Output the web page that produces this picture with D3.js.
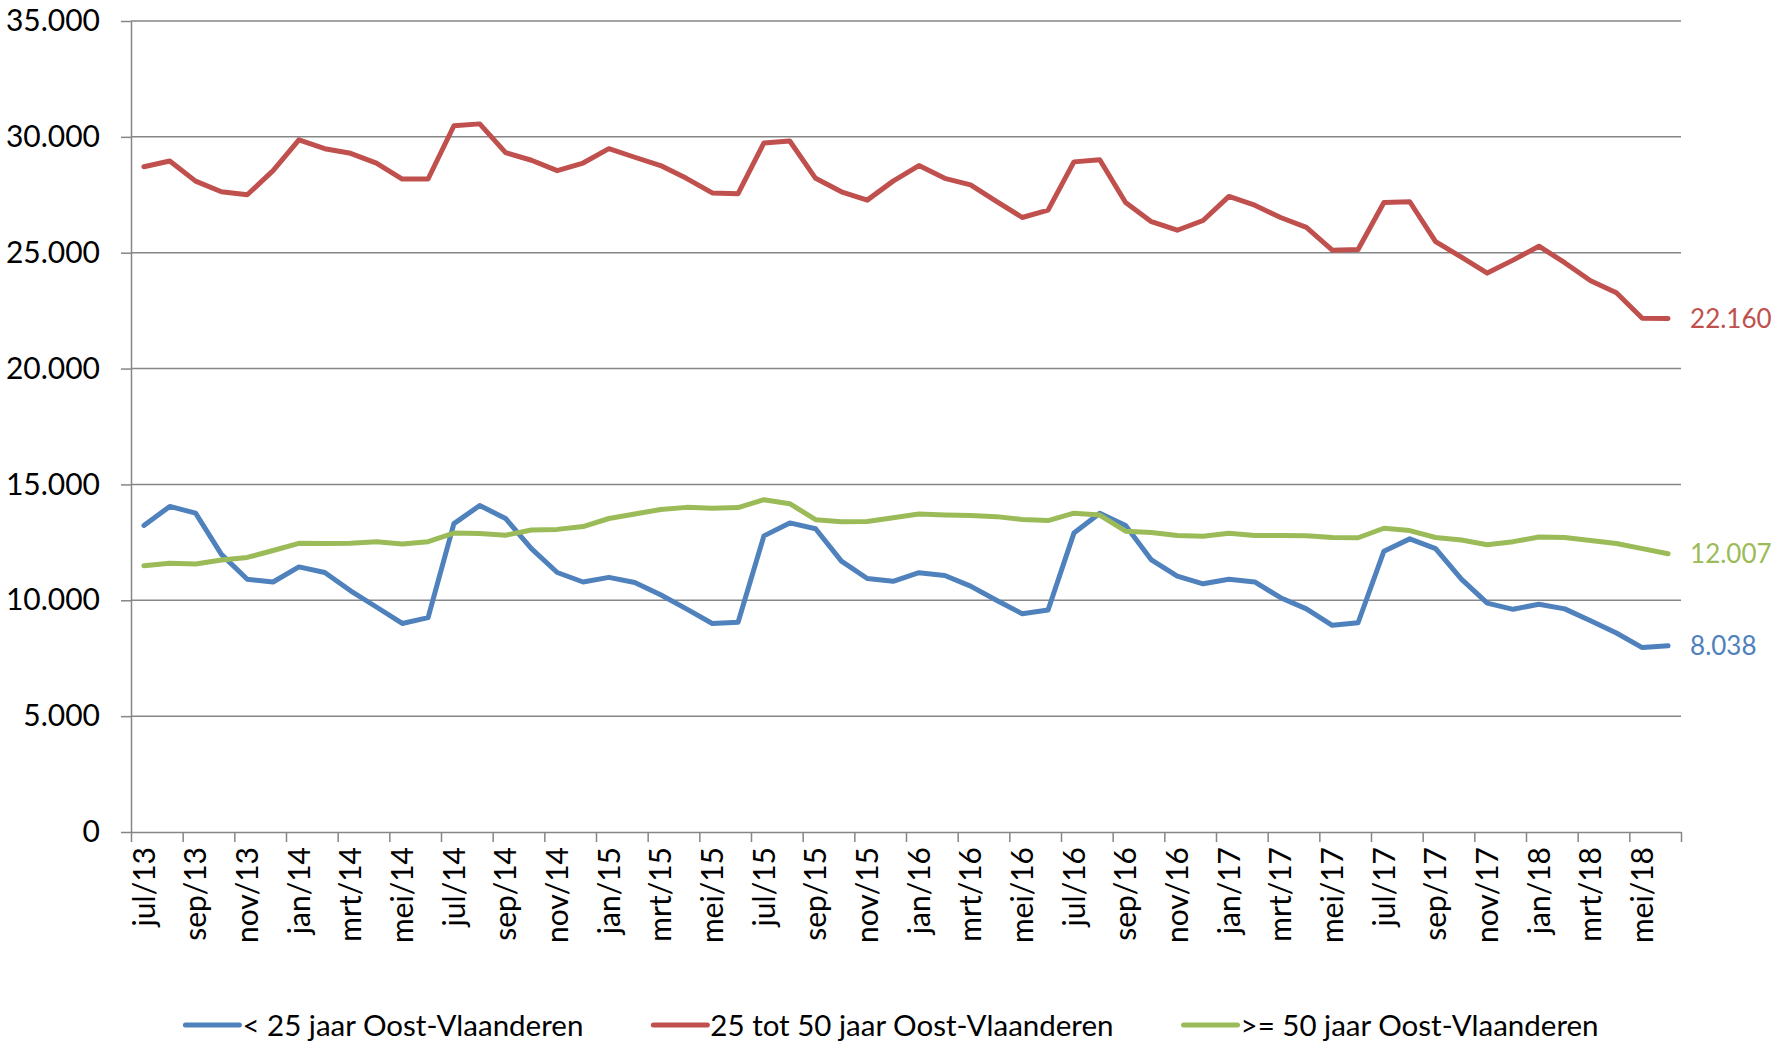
<!DOCTYPE html>
<html>
<head>
<meta charset="utf-8">
<script src="https://cdn.jsdelivr.net/npm/d3@7"></script>
<style>
  body { margin: 0; background: #fff; }
  text { font-family: Lato, "Open Sans", sans-serif; fill: #000; }
</style>
</head>
<body>
<script>
// months jul/13 .. jun/18
var months = [
  "jul/13","aug/13","sep/13","okt/13","nov/13","dec/13",
  "jan/14","feb/14","mrt/14","apr/14","mei/14","jun/14","jul/14","aug/14","sep/14","okt/14","nov/14","dec/14",
  "jan/15","feb/15","mrt/15","apr/15","mei/15","jun/15","jul/15","aug/15","sep/15","okt/15","nov/15","dec/15",
  "jan/16","feb/16","mrt/16","apr/16","mei/16","jun/16","jul/16","aug/16","sep/16","okt/16","nov/16","dec/16",
  "jan/17","feb/17","mrt/17","apr/17","mei/17","jun/17","jul/17","aug/17","sep/17","okt/17","nov/17","dec/17",
  "jan/18","feb/18","mrt/18","apr/18","mei/18","jun/18"
];

var under25 = [
  13230,14050,13760,11980,10910,10790,
  11440,11200,10410,9710,9000,9250,13310,14090,13530,12230,11200,10790,
  10990,10770,10240,9630,9000,9050,12780,13340,13090,11690,10940,10820,
  11190,11070,10610,10000,9420,9580,12900,13760,13230,11740,11040,10710,
  10910,10790,10110,9630,8920,9030,12120,12650,12230,10910,9880,9610,
  9830,9630,9120,8590,7960,8038
];

var from25to50 = [
  28710,28960,28090,27630,27500,28540,
  29870,29490,29290,28870,28180,28180,30480,30560,29320,28990,28540,28870,
  29490,29120,28760,28210,27580,27550,29740,29820,28210,27630,27270,28090,
  28760,28210,27930,27220,26520,26840,28920,29010,27170,26340,25970,26390,
  27430,27050,26520,26090,25110,25140,27170,27200,25480,24810,24120,24680,
  25280,24570,23790,23270,22170,22160
];

var over50 = [
  11490,11600,11570,11740,11850,12150,
  12460,12450,12460,12530,12430,12530,12900,12880,12810,13030,13060,13180,
  13530,13720,13920,14010,13970,14000,14340,14170,13480,13390,13400,13560,
  13720,13680,13660,13610,13490,13440,13760,13680,12980,12930,12800,12760,
  12890,12800,12800,12790,12710,12700,13110,13010,12710,12600,12400,12530,
  12730,12710,12580,12450,12230,12007
];

var seriesNames = ["< 25 jaar Oost-Vlaanderen", "25 tot 50 jaar Oost-Vlaanderen", ">= 50 jaar Oost-Vlaanderen"];
var seriesColors = ["#4F81BD", "#C0504D", "#9BBB59"];
var yTicks = [0, 5000, 10000, 15000, 20000, 25000, 30000, 35000];

setChart();

function setChart(){

    //frame and plot area
    var width = 1785, height = 1042;
    var plotLeft = 131, plotRight = 1681, plotTop = 21, plotBottom = 832;
    var gridColor = "#868686";

    var svg = d3.select("body").append("svg")
        .attr("width", width)
        .attr("height", height);

    var nl = d3.formatLocale({decimal: ",", thousands: ".", grouping: [3], currency: ["€", ""]});
    var fmt = nl.format(",");

    var x = d3.scaleBand().domain(months).range([plotLeft, plotRight]);
    var idx = d3.scaleLinear().domain([0, months.length]).range([plotLeft, plotRight]);
    var y = d3.scaleLinear().domain([0, 35000]).range([plotBottom, plotTop]);

    //horizontal gridlines
    svg.append("g")
        .selectAll("line")
        .data(yTicks.filter(function(d){ return d > 0; }))
        .join("line")
        .attr("x1", plotLeft).attr("x2", plotRight)
        .attr("y1", function(d){ return y(d); })
        .attr("y2", function(d){ return y(d); })
        .attr("stroke", gridColor)
        .attr("stroke-width", 1.5);

    //y axis
    var yAxis = svg.append("g")
        .attr("transform", "translate(" + plotLeft + ",0)")
        .call(d3.axisLeft(y).tickValues(yTicks).tickSize(10).tickSizeOuter(0).tickPadding(21).tickFormat(fmt));
    yAxis.select(".domain").attr("stroke", gridColor).attr("stroke-width", 1.5);
    yAxis.selectAll(".tick line").attr("stroke", gridColor).attr("stroke-width", 1.5);
    yAxis.selectAll("text").attr("font-size", 30).attr("fill", "#000");

    //x axis: tick marks every 2 months on category boundaries
    var xTicks = svg.append("g")
        .attr("transform", "translate(0," + plotBottom + ")")
        .call(d3.axisBottom(idx).tickValues(d3.range(0, months.length + 1, 2)).tickSize(10).tickSizeOuter(0).tickFormat(""));
    xTicks.select(".domain").attr("stroke", gridColor).attr("stroke-width", 1.5);
    xTicks.selectAll(".tick line").attr("stroke", gridColor).attr("stroke-width", 1.5);

    //x labels, rotated
    var xLabels = svg.append("g")
        .attr("transform", "translate(0," + plotBottom + ")")
        .call(d3.axisBottom(x).tickValues(months.filter(function(d, i){ return i % 2 === 0; })).tickSize(0));
    xLabels.select(".domain").remove();
    xLabels.selectAll("text")
        .attr("transform", "rotate(-90)")
        .attr("text-anchor", "end")
        .attr("x", -15)
        .attr("y", 0)
        .attr("dy", "0.36em")
        .attr("font-size", 30)
        .attr("fill", "#000");

    //lines
    var series = [under25, from25to50, over50];
    var line = d3.line()
        .x(function(d, i){ return x(months[i]) + x.bandwidth() / 2; })
        .y(function(d){ return y(d); });

    svg.append("g")
        .selectAll("path")
        .data(series)
        .join("path")
        .attr("d", line)
        .attr("fill", "none")
        .attr("stroke", function(d, i){ return seriesColors[i]; })
        .attr("stroke-width", 5)
        .attr("stroke-linejoin", "round")
        .attr("stroke-linecap", "round");

    //end labels
    var last = months.length - 1;
    svg.append("g")
        .selectAll("text")
        .data(series)
        .join("text")
        .attr("x", x(months[last]) + x.bandwidth() / 2 + 22)
        .attr("y", function(d){ return y(d[last]); })
        .attr("dy", "0.36em")
        .attr("font-size", 26)
        .style("fill", function(d, i){ return seriesColors[i]; })
        .text(function(d){ return fmt(d[last]); });

    //legend
    var legend = svg.append("g");
    var items = legend.selectAll("g")
        .data(seriesNames)
        .join("g");
    items.append("line")
        .attr("x1", 0).attr("x2", 54)
        .attr("y1", 0).attr("y2", 0)
        .attr("stroke", function(d, i){ return seriesColors[i]; })
        .attr("stroke-width", 5)
        .attr("stroke-linecap", "round");
    items.append("text")
        .attr("x", 57)
        .attr("dy", "0.36em")
        .attr("font-size", 29.5)
        .text(function(d){ return d; });

    var gap = 70, offsets = [], total = 0;
    items.each(function(d, i){
        var w = 57 + this.querySelector("text").getComputedTextLength();
        offsets.push(total);
        total += w + (i < seriesNames.length - 1 ? gap : 0);
    });
    var startX = 892 - total / 2;
    items.attr("transform", function(d, i){ return "translate(" + (startX + offsets[i]) + ",1025)"; });
}
</script>
</body>
</html>
